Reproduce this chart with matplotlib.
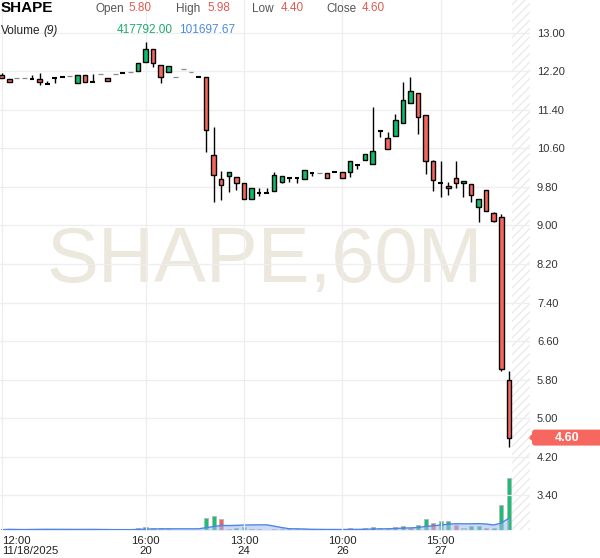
import numpy as np
import pandas as pd
import matplotlib
matplotlib.use("Agg")
import matplotlib.pyplot as plt
from matplotlib.patches import FancyBboxPatch, Polygon
from matplotlib.transforms import IdentityTransform

plt.rcParams["font.family"] = ["Liberation Sans", "DejaVu Sans"]
plt.rcParams["hatch.linewidth"] = 0.8

# ------------------------------------------------------------
# Data (60 minute candles)
# ------------------------------------------------------------
opens = [12.12, 12.03, 12.07, 12.05, 12.04, 12.03, 11.94, 12.05, 12.09, 12.10,
         11.95, 12.12, 11.98, 12.14, 12.07, 12.15, 12.17, 12.19, 12.20, 12.39,
         12.66, 12.32, 12.18, 12.08, 12.24, 12.18, 12.09, 12.08, 10.46, 9.96,
         10.02, 10.00, 9.88, 9.56, 9.68, 9.67, 9.72, 9.91, 9.98, 9.98,
         9.96, 10.08, 10.08, 10.08, 10.10, 10.10, 10.10, 10.26, 10.35, 10.27,
         10.96, 10.81, 10.85, 11.12, 11.54, 11.74, 11.29, 10.33, 9.89, 9.82,
         9.98, 9.88, 9.86, 9.38, 9.73, 9.25, 9.17, 5.80]
highs = [12.16, 12.03, 12.07, 12.05, 12.12, 12.16, 12.00, 12.05, 12.10, 12.10,
         12.12, 12.12, 12.14, 12.14, 12.07, 12.15, 12.18, 12.19, 12.37, 12.81,
         12.66, 12.32, 12.30, 12.08, 12.24, 12.18, 12.10, 12.08, 11.05, 10.14,
         10.10, 10.00, 9.88, 9.77, 9.77, 9.77, 10.10, 10.02, 9.98, 9.98,
         10.15, 10.10, 10.08, 10.08, 10.11, 10.10, 10.33, 10.26, 10.48, 11.45,
         10.98, 10.93, 11.31, 11.97, 12.08, 11.74, 11.29, 10.35, 10.33, 9.90,
         10.34, 9.92, 9.86, 9.54, 9.73, 9.28, 9.23, 5.98]
lows = [12.05, 11.97, 12.07, 12.05, 12.04, 11.91, 11.94, 11.95, 12.09, 12.10,
        11.95, 11.97, 11.98, 12.14, 11.99, 12.15, 12.17, 12.19, 12.20, 12.39,
        12.28, 11.96, 12.18, 12.08, 12.24, 12.18, 12.09, 10.52, 9.48, 9.53,
        9.69, 9.74, 9.54, 9.56, 9.61, 9.67, 9.72, 9.89, 9.91, 9.88,
        9.96, 10.03, 10.08, 9.98, 10.10, 9.98, 10.00, 10.18, 10.35, 10.27,
        10.83, 10.58, 10.85, 11.12, 11.54, 10.90, 10.06, 9.71, 9.59, 9.63,
        9.77, 9.59, 9.49, 9.07, 9.30, 9.07, 5.98, 4.40]
closes = [12.05, 11.97, 12.07, 12.05, 12.04, 11.97, 11.94, 12.05, 12.09, 12.10,
          12.12, 11.97, 11.98, 12.14, 11.99, 12.15, 12.17, 12.19, 12.37, 12.66,
          12.37, 12.08, 12.30, 12.08, 12.24, 12.18, 12.09, 10.98, 10.04, 9.83,
          10.10, 9.88, 9.54, 9.77, 9.68, 9.67, 10.04, 10.02, 9.98, 9.98,
          10.15, 10.08, 10.08, 9.98, 10.10, 9.98, 10.33, 10.26, 10.48, 10.55,
          10.96, 10.58, 11.18, 11.60, 11.80, 11.25, 10.33, 9.94, 9.89, 9.77,
          9.88, 9.92, 9.63, 9.54, 9.30, 9.09, 6.02, 4.60]
volumes = [2400, 8000, 1600, 1600, 8000, 8000, 8000, 3200, 3200, 1600,
           4000, 4000, 3200, 1600, 3200, 1600, 3200, 1600, 18400, 26400,
           13600, 13600, 4800, 1600, 1600, 1600, 3200, 98400, 109600, 88000,
           8000, 18400, 26400, 8000, 8000, 3200, 8000, 4800, 4000, 4000,
           4800, 3200, 1600, 4000, 3200, 4800, 13600, 4800, 13600, 21600,
           13600, 6400, 26400, 32000, 18400, 40000, 85600, 58400, 74400, 74400,
           40000, 18400, 32000, 32000, 13600, 13600, 200000, 417792]
# g = green, r = red, n = neutral grey (as drawn in the volume pane)
vol_colors = ("nnnnnnnnnn" "nnnnnnnngg" "nnnnnnnggr" "nggngnnnnn"
              "nnnnnngnng" "nnggrggrgg" "rnggrggg")

time_ticks = [0, 19, 32, 45, 58]
time_labels = ["12:00\n11/18/2025", "16:00\n20", "13:00\n24", "10:00\n26", "15:00\n27"]
price_ticks = [3.40, 4.20, 5.00, 5.80, 6.60, 7.40, 8.20, 9.00, 9.80, 10.60, 11.40, 12.20, 13.00]
ma_period = 9

GREEN = "#0fbb6c"
RED = "#f6665d"
VGREEN = "#14c275"
VRED = "#f0645c"
VGRAY = "#d4d4d4"

o = np.array(opens)
h = np.array(highs)
l = np.array(lows)
c = np.array(closes)
x = np.arange(len(o))
vol = np.array(volumes, dtype=float)
ma = pd.Series(vol).rolling(ma_period, min_periods=1).mean().to_numpy()

# ------------------------------------------------------------
# Figure / axes
# ------------------------------------------------------------
fig = plt.figure(figsize=(6.0, 5.58), dpi=100)
rect = [0.0, 28 / 558, 530 / 600, 530 / 558]
vax = fig.add_axes(rect, zorder=1)
ax = fig.add_axes(rect, zorder=2)
ax.patch.set_alpha(0)

xlim = (-0.225, 69.79)
ylim = (2.683, 13.678)

# volume
vc = {"g": VGREEN, "r": VRED, "n": VGRAY}
vax.bar(x, vol, width=0.55, color=[vc[k] for k in vol_colors],
        edgecolor="#b8b8b8", linewidth=0.7, zorder=2)
vax.fill_between(x, 0, ma, color="#9fbcef", alpha=0.55, lw=0, zorder=3)
vax.plot(x, ma, color="#4d84e6", lw=1.0, zorder=4)
vax.set_xlim(*xlim)
vax.set_ylim(0, vol.max() * 530 / 52.5)
vax.axis("off")

# watermark
ax.text(0.5, 0.507, "SHAPE,60M", transform=ax.transAxes, ha="center", va="center",
        fontsize=56, color="#ece8dd", zorder=0)

# future (hatched) area
ax.axvspan(67.45, xlim[1], facecolor="none", edgecolor="#e8e8e8", hatch="////",
           lw=0, zorder=0.5)

# candles
up = c > o
down = c < o
flat = h == l
doji = (o == c) & ~flat
ax.vlines(x[~flat], l[~flat], h[~flat], color="black", lw=1.0, zorder=3)
ax.bar(x[up], (c - o)[up], bottom=o[up], width=0.6, color=GREEN,
       edgecolor="black", linewidth=1.0, zorder=4)
ax.bar(x[down], (o - c)[down], bottom=c[down], width=0.6, color=RED,
       edgecolor="black", linewidth=1.0, zorder=4)
ax.hlines(o[doji], x[doji] - 0.32, x[doji] + 0.32, color="black", lw=1.5, zorder=4)
ax.hlines(o[flat], x[flat] - 0.32, x[flat] + 0.32, color="#8a8a8a", lw=0.9, zorder=4)

ax.set_xlim(*xlim)
ax.set_ylim(*ylim)

ax.yaxis.tick_right()
ax.set_yticks(price_ticks)
ax.set_yticklabels([f"{p:.2f}" for p in price_ticks])
ax.set_xticks(time_ticks)
ax.set_xticklabels(time_labels, linespacing=0.95)
ax.get_xticklabels()[0].set_horizontalalignment("left")
ax.tick_params(axis="y", length=0, pad=5, labelsize=8, labelcolor="#333333")
ax.tick_params(axis="x", length=0, pad=4.5, labelsize=8.2, labelcolor="#222222")
ax.grid(True, color="#eeeeee", lw=0.9, zorder=0)
ax.set_axisbelow(True)
for s in ax.spines.values():
    s.set_visible(False)

# last price tag
y_last = ax.transData.transform((0, closes[-1]))[1]
tag = FancyBboxPatch((532, y_last - 8), 70, 16,
                     boxstyle="round,pad=0,rounding_size=3",
                     transform=IdentityTransform(), fc="#f6675f", ec="none")
fig.add_artist(tag)
fig.add_artist(Polygon([(533, y_last + 4), (528, y_last), (533, y_last - 4)],
                       closed=True, transform=IdentityTransform(), fc="#f6675f", ec="none"))
fig.text(567, y_last, f"{closes[-1]:.2f}", transform=IdentityTransform(),
         ha="center", va="center", color="white", fontsize=9, fontweight="bold")


# ------------------------------------------------------------
# Header
# ------------------------------------------------------------
def px(xp, yp):
    return xp / 600, 1 - yp / 558


fig.text(*px(1, 8), "SHAPE", fontsize=11, fontweight="bold", va="center")
for lab, lx, val, vx in [("Open", 95, "5.80", 128), ("High", 176, "5.98", 207),
                         ("Low", 252, "4.40", 281), ("Close", 326, "4.60", 362)]:
    fig.text(*px(lx, 9), lab, fontsize=8.5, color="#555555", va="center")
    fig.text(*px(vx, 8), val, fontsize=8.5, color="#e05a50", va="center")
fig.text(*px(1, 31), "Volume", fontsize=8.5, color="#222222", va="center")
fig.text(*px(43, 31), "(9)", fontsize=8.5, color="#222222", va="center", style="italic")
fig.text(*px(117, 30), "417792.00", fontsize=8.5, color="#1faa6b", va="center")
fig.text(*px(179, 30), "101697.67", fontsize=8.5, color="#4a8ae0", va="center")

fig.savefig("out.png", dpi=100)
